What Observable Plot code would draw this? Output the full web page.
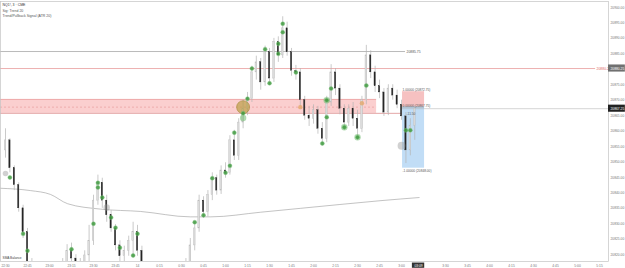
<!DOCTYPE html>
<html><head><meta charset="utf-8">
<script src="https://cdn.jsdelivr.net/npm/d3@7"></script>
<script src="https://cdn.jsdelivr.net/npm/@observablehq/plot@0.6"></script>
<style>
html,body{margin:0;padding:0;background:#fff;}
#chart{width:625px;height:268px;overflow:hidden;}
</style></head><body><div id="chart"></div>
<script>
// ---- data (3-minute candles, minutes from 22:30) ----
const candleMinutes = 3;
const openP = [20853.75,20857.00,20848.00,20842.50,20835.00,20827.25,20817.50,20813.25,20811.00,20812.25,
20810.00,20811.75,20813.25,20815.00,20817.50,20821.25,20818.75,20816.25,20817.50,20819.75,
20824.50,20837.50,20843.25,20837.50,20832.75,20828.50,20823.00,20819.50,20821.25,20824.50,
20827.25,20821.25,20815.50,20813.25,20810.00,20808.50,20809.75,20807.75,20809.00,20811.00,
20813.00,20815.00,20817.50,20823.00,20828.50,20837.50,20833.75,20839.25,20844.75,20840.75,
20847.25,20846.50,20857.00,20852.00,20862.75,20867.25,20870.50,20879.00,20882.25,20875.75,
20885.50,20877.00,20888.75,20884.50,20893.25,20885.50,20879.50,20879.00,20870.00,20865.00,
20864.00,20866.75,20860.75,20857.50,20869.25,20879.00,20873.75,20867.25,20862.75,20867.25,
20864.00,20860.75,20870.00,20884.50,20879.00,20874.50,20872.50,20866.00,20873.75,20871.50,
20868.50,20864.75,20853.75,20861.75];
const highP = [20860.75,20857.50,20848.75,20843.25,20836.00,20828.50,20818.75,20815.00,20814.25,20813.50,
20813.00,20815.00,20816.25,20818.75,20823.25,20823.75,20820.00,20818.75,20821.25,20829.50,
20839.25,20845.75,20844.75,20839.25,20834.25,20829.75,20824.50,20822.75,20826.00,20830.50,
20829.50,20822.75,20816.75,20815.00,20811.75,20811.00,20811.00,20810.25,20812.25,20814.25,
20816.25,20818.75,20825.25,20830.50,20839.25,20838.75,20840.75,20846.50,20845.75,20848.75,
20849.75,20858.50,20860.25,20864.00,20870.00,20872.50,20881.00,20884.25,20883.50,20887.50,
20886.75,20890.00,20890.50,20897.00,20895.25,20886.75,20881.25,20880.25,20871.25,20868.00,
20868.50,20868.00,20862.75,20871.25,20881.50,20880.25,20875.00,20868.50,20868.50,20869.25,
20866.75,20871.25,20887.75,20886.00,20881.00,20876.50,20873.75,20875.00,20875.00,20873.25,
20870.00,20866.00,20864.00,20868.00];
const lowP = [20851.25,20846.50,20840.75,20833.75,20825.25,20815.50,20811.75,20808.50,20809.00,20807.75,
20808.50,20810.25,20811.75,20813.50,20816.25,20816.75,20814.25,20814.25,20815.50,20817.50,
20823.00,20836.00,20835.00,20830.50,20827.25,20821.25,20817.50,20817.50,20819.50,20819.00,
20819.50,20813.50,20811.00,20807.75,20805.75,20806.50,20805.25,20806.50,20807.75,20809.00,
20811.75,20813.50,20816.25,20821.25,20827.25,20831.75,20832.25,20837.50,20839.25,20839.50,
20844.75,20845.75,20850.50,20850.50,20860.75,20865.00,20869.25,20876.50,20873.25,20874.50,
20874.75,20875.75,20882.25,20883.50,20884.25,20877.75,20876.50,20868.00,20863.50,20861.50,
20862.25,20859.00,20855.25,20856.25,20868.00,20871.50,20865.25,20860.25,20861.50,20861.50,
20857.00,20859.50,20868.50,20877.00,20872.50,20870.50,20864.75,20865.00,20870.00,20867.25,
20863.50,20849.50,20852.00,20857.00];
const closeP = [20857.00,20848.00,20842.50,20835.00,20827.25,20817.50,20813.25,20811.00,20812.25,20810.00,
20811.75,20813.25,20815.00,20817.50,20821.25,20818.75,20816.25,20817.50,20819.75,20824.50,
20837.50,20843.25,20837.50,20832.75,20828.50,20823.00,20819.50,20821.25,20824.50,20827.25,
20821.25,20815.50,20813.25,20810.00,20808.50,20809.75,20807.75,20809.00,20811.00,20813.00,
20815.00,20817.50,20823.00,20828.50,20837.50,20833.75,20839.25,20844.75,20840.75,20847.25,
20846.50,20857.00,20852.00,20862.75,20867.25,20870.50,20879.00,20882.25,20875.75,20885.50,
20877.00,20888.75,20884.50,20893.25,20885.50,20879.50,20879.00,20870.00,20865.00,20864.00,
20866.75,20860.75,20857.50,20869.25,20879.00,20873.75,20867.25,20862.75,20867.25,20864.00,
20860.75,20870.00,20884.50,20879.00,20874.50,20872.50,20866.00,20873.75,20871.50,20868.50,
20864.75,20853.75,20861.75,20867.25];

// moving average (minutes, price)
const maTime  = [-3.4, 17, 30.7, 42.3, 64.8, 92, 126, 140, 174, 201, 228, 256, 282];
const maPrice = [20841.50,20840.75,20839.50,20836.50,20834.75,20834.00,20832.25,20832.25,20833.75,20835.00,20836.25,20837.50,20838.50];

// signals (candle index, price)
const greenIdx = [1,4,5,15,20,21,21,22,24,25,26,29,30,43,45,47,50,51,52,54,55,56,59,60,62,62,63,63,66,72,73,73,74,77,80,82,91,92];
const greenPrice = [20845.00,20826.75,20821.25,20821.75,20830.00,20843.25,20841.75,20838.50,20832.00,20828.75,20822.25,20819.75,20826.75,20830.50,20832.75,20844.75,20846.50,20848.75,20859.50,20865.75,20870.50,20880.25,20886.50,20875.50,20885.00,20888.25,20892.00,20894.75,20879.00,20856.00,20864.50,20870.00,20873.75,20861.25,20858.00,20874.75,20860.25,20860.25];
const bigGreenIdx = [54,73,77,80];
const bigGreenPrice = [20864.25,20870.00,20861.25,20858.00];
const goldIdx = [54,67,81];
const goldPrice = [20867.75,20867.75,20869.00];
const grayIdx = [0,23,90];
const grayPrice = [20846.25,20835.25,20855.25];

// levels
const supplyZone = {t1: -3.4, t2: 253, low: 20865.75, high: 20870.25, mid: 20867.75};
const levelGray = {price: 20885.75, t2: 272.7, label: "20885.75"};
const levelRed  = {price: 20880.25, t2: 402.3, label: "20880.25"};
const lastPrice = 20867.25;
const position = {t1: 270.7, t2: 285.7, entry: 20867.75, target: 20872.75, stop: 20848.00};
const posLabels = ["1.00000 (20872.75)", "0.00000 (20867.75)", "-11.50", "-1.00000 (20848.00)"];

// axes
const axisPrices = [20900,20895,20890,20885,20880,20875,20870,20865,20860,20855,20850,20845,20840,20835,20830,20825,20820];
const timeTicks = [0,15,30,45,60,75,90,105,120,135,150,165,180,195,210,225,240,255,270,285,300,315,330,345,360,375,390,405];
const timeLabels = ["22:30","22:45","23:00","23:15","23:30","23:45","14","0:15","0:30","0:45","1:00","1:15","1:30","1:45","2:00","2:15","2:30","2:45","3:00","3:15","3:30","3:45","4:00","4:15","4:30","4:45","5:00","5:15"];
const nowTime = 281.6, nowLabel = "03:09";
const headerLines = ["NQ1!, 3 · CME", "Sig: Trend 20", "Trend/Pullback Signal (ATR 20)"];
const maLabel = "SMA Balance";

// ---- build ----
const xDomain = [-3.41, 411.1];
const yDomain = [20817.8, 20901.94];
const candles = openP.map((o,i)=>({t: i*candleMinutes, o, h: highP[i], l: lowP[i], c: closeP[i]}));
const up = candles.filter(d=>d.c>=d.o), down = candles.filter(d=>d.c<d.o);
const sig = (idx, pr) => idx.map((k,i)=>({t: k*candleMinutes, p: pr[i]}));
const ma = maTime.map((t,i)=>({t, p: maPrice[i]}));
const ticks = timeTicks.map((t,i)=>({t, label: timeLabels[i]})).filter(d=>Math.abs(d.t-nowTime)>6);
const fmt = d3.format(".2f");
const font = "Liberation Sans, Arial, sans-serif";
const headerMarks = headerLines.map((line, i) =>
  Plot.text([line], {frameAnchor: "top-left", text: d=>d, dx: 2, dy: 2 + i*5.5, fontSize: 3.5,
    fill: i === 0 ? "#333" : "#555", textAnchor: "start", lineAnchor: "top"}));

const chart = Plot.plot({
  width: 625, height: 268,
  marginLeft: 0, marginRight: 17, marginTop: 1, marginBottom: 7,
  x: {domain: xDomain, axis: null},
  y: {domain: yDomain, axis: null},
  style: {fontFamily: font, background: "#fff", overflow: "visible"},
  marks: [
    // supply zone
    Plot.rect([supplyZone], {x1: "t1", x2: "t2", y1: "low", y2: "high", fill: "#fbcfcf"}),
    Plot.ruleY([supplyZone], {y: "high", x1: "t1", x2: "t2", stroke: "#e79a9a", strokeWidth: 0.7}),
    Plot.ruleY([supplyZone], {y: "mid", x1: "t1", x2: "t2", stroke: "#e08a8a", strokeWidth: 0.5, strokeDasharray: "2,2"}),
    Plot.ruleY([supplyZone], {y: "low", x1: "t1", x2: () => position.t1, stroke: "#d98080", strokeWidth: 0.7}),
    // position boxes
    Plot.rect([position], {x1: "t1", x2: "t2", y1: "entry", y2: "target", fill: "#f6c1c1"}),
    Plot.rect([position], {x1: "t1", x2: "t2", y1: "stop", y2: "entry", fill: "#c1ddf6"}),
    Plot.ruleY([position], {y: "entry", x1: "t1", x2: "t2", stroke: "#8a8a8a", strokeWidth: 0.5}),
    // levels
    Plot.ruleY([levelGray], {y: "price", x1: xDomain[0], x2: "t2", stroke: "#8c8c8c", strokeWidth: 0.6}),
    Plot.text([levelGray], {y: "price", x: "t2", text: "label", textAnchor: "start", dx: 1, fontSize: 3.4, fill: "#555"}),
    Plot.ruleY([levelRed], {y: "price", x1: xDomain[0], x2: "t2", stroke: "#e58f8f", strokeWidth: 0.7}),
    Plot.text([levelRed], {y: "price", x: "t2", text: "label", textAnchor: "start", dx: 1, fontSize: 3.4, fill: "#d66"}),
    Plot.ruleY([lastPrice], {y: d=>d, x1: position.t1, x2: xDomain[1], stroke: "#aaa", strokeWidth: 0.5}),
    // moving average
    Plot.line(ma, {x: "t", y: "p", stroke: "#9a9a9a", strokeWidth: 0.6, curve: "monotone-x", clip: true}),
    // candles
    Plot.ruleX(candles, {x: "t", y1: "l", y2: "h", stroke: "#b3b3b3", strokeWidth: 0.7, clip: true}),
    Plot.rect(up, {x1: d=>d.t-0.55, x2: d=>d.t+0.55, y1: "o", y2: "c", fill: "#dcdcdc", stroke: "#bdbdbd", strokeWidth: 0.4, clip: true}),
    Plot.rect(down, {x1: d=>d.t-0.45, x2: d=>d.t+0.45, y1: "o", y2: "c", fill: "#262626", stroke: "#262626", strokeWidth: 0.3, clip: true}),
    // signals
    Plot.dot(sig(grayIdx, grayPrice), {x: "t", y: "p", r: (d,i)=> i===0 ? 3 : i===1 ? 4 : 6, fill: "#9a9a9a", fillOpacity: 0.45, clip: true}),
    Plot.dot(sig([goldIdx[0]], [goldPrice[0]]), {x: "t", y: "p", r: 6.5, fill: "#b79b3c", fillOpacity: 0.65, stroke: "#9c8430", strokeWidth: 0.5}),
    Plot.dot(sig(goldIdx.slice(1), goldPrice.slice(1)), {x: "t", y: "p", r: 2.2, fill: "#e4a86a", fillOpacity: 0.8}),
    Plot.dot(sig(bigGreenIdx, bigGreenPrice), {x: "t", y: "p", r: 3.2, fill: "#6fbb6f", fillOpacity: 0.55}),
    Plot.dot(sig(greenIdx, greenPrice), {x: "t", y: "p", r: 2, fill: "#3e9a3e", fillOpacity: 0.85, stroke: "#86c686", strokeWidth: 0.4, clip: true}),
    // position labels
    Plot.text([position], {x: "t1", y: "target", text: () => posLabels[0], textAnchor: "start", dy: -2, fontSize: 3.2, fill: "#555"}),
    Plot.text([position], {x: "t1", y: "entry", text: () => posLabels[1], textAnchor: "start", dy: -1.5, fontSize: 3.2, fill: "#555"}),
    Plot.text([position], {x: "t1", y: "entry", text: () => posLabels[2], textAnchor: "start", dx: 4, dy: 7, fontSize: 3.2, fill: "#555"}),
    Plot.text([position], {x: "t1", y: "stop", text: () => posLabels[3], textAnchor: "start", dy: 2.5, fontSize: 3.2, fill: "#555"}),
    // frame
    Plot.frame({stroke: "#c4c4c4", strokeWidth: 0.7}),
    // right price axis
    Plot.text(axisPrices, {x: xDomain[1], y: d=>d, text: d=>fmt(d), textAnchor: "start", dx: 2, fontSize: 3.3, fill: "#777"}),
    Plot.rect([levelRed.price], {x1: xDomain[1], x2: xDomain[1] + 11.5, y1: d=>d-1.15, y2: d=>d+1.15, fill: "#707070"}),
    Plot.text([levelRed.price], {x: xDomain[1], y: d=>d, text: d=>fmt(d), textAnchor: "start", dx: 2, fontSize: 3.3, fill: "#fff"}),
    Plot.rect([lastPrice], {x1: xDomain[1], x2: xDomain[1] + 11.5, y1: d=>d-1.15, y2: d=>d+1.15, fill: "#222"}),
    Plot.text([lastPrice], {x: xDomain[1], y: d=>d, text: d=>fmt(d), textAnchor: "start", dx: 2, fontSize: 3.3, fill: "#fff"}),
    // time axis
    Plot.text(ticks, {x: "t", y: yDomain[0], text: "label", dy: 4, fontSize: 3.3, fill: "#777", fontWeight: d=> d.label.length < 3 ? "bold" : "normal"}),
    Plot.rect([nowTime], {x1: d=>d-4.2, x2: d=>d+4.2, y1: yDomain[0] - 0.5, y2: yDomain[0] - 2.2, fill: "#333"}),
    Plot.text([nowTime], {x: d=>d, y: yDomain[0], text: () => nowLabel, dy: 4, fontSize: 3.3, fill: "#fff"}),
    // header + legend
    ...headerMarks,
    Plot.text([maLabel], {frameAnchor: "bottom-left", text: d=>d, dx: 2, dy: -3, fontSize: 3.2, fill: "#444", stroke: "#fff", strokeWidth: 1.5, textAnchor: "start"})
  ]
});
document.getElementById("chart").appendChild(chart);
</script>
</body></html>
